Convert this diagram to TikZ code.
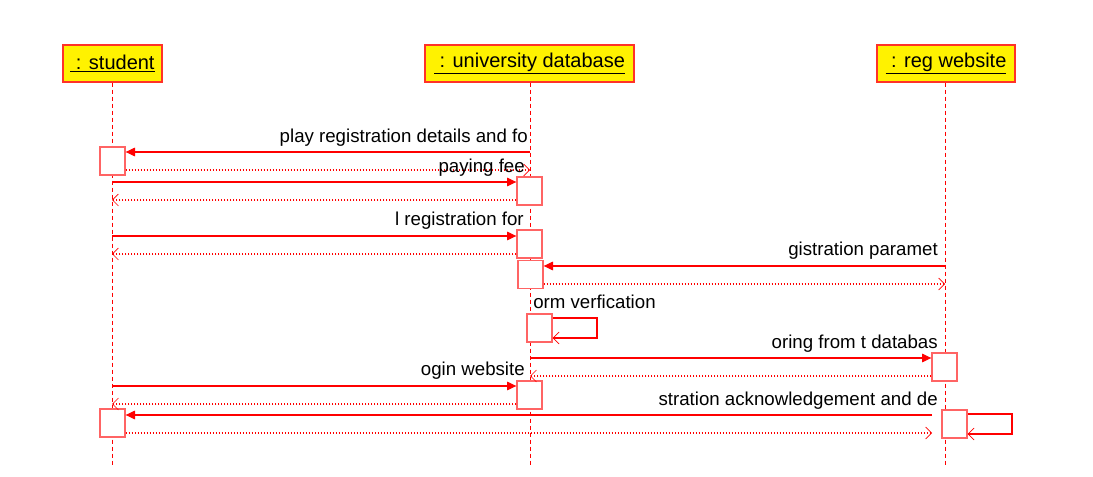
\documentclass[tikz,border=0pt]{standalone}
\usepackage{fontspec}
\setmainfont{Liberation Sans}
\usetikzlibrary{arrows.meta}

\definecolor{objborder}{RGB}{255,50,40}
\definecolor{actborder}{RGB}{255,100,100}

\tikzset{
  lifeobj/.style={draw=objborder, fill=yellow, line width=1.1pt, minimum height=27.75pt, inner sep=0pt, font=\fontsize{15}{17}\selectfont},
  actbox/.style={draw=actborder, fill=white, line width=1pt, minimum width=18.75pt, minimum height=21pt, inner sep=0pt},
  lifeline/.style={red, line width=0.75pt, dash pattern={on 3pt off 2.25pt}},
  callmsg/.style={red, line width=0.8pt, -{Triangle[length=7pt,width=6.5pt]}},
  retmsg/.style={red, line width=0.8pt, dash pattern={on 0.75pt off 1.5pt}, -{Straight Barb[length=4.5pt,width=9pt,line width=0.5pt]}},
  selfmsg/.style={red, line width=0.8pt, -{Straight Barb[length=4.5pt,width=9pt,line width=0.5pt]}},
  msglabel/.style={inner sep=0pt, font=\fontsize{14}{16}\selectfont}
}

\begin{document}
\begin{tikzpicture}[x=0.75pt,y=0.75pt,yscale=-1,xscale=1]
\useasboundingbox (0,0) rectangle (1093,477);

% objects
\node[lifeobj, minimum width=74.25pt] (stu) at (112.5,63.5) {\underline{~: student}};
\node[lifeobj, minimum width=156.75pt] (db) at (529.5,63.5) {\underline{~: university database}};
\node[lifeobj, minimum width=103.5pt] (reg) at (946,63.5) {\underline{~: reg website}};

% lifelines
\coordinate (stuEnd) at (112,465);
\coordinate (dbEnd) at (530,465);
\coordinate (regEnd) at (945,465);
\draw[lifeline] (stu.south -| stuEnd) -- (stuEnd);
\draw[lifeline] (db.south -| dbEnd) -- (dbEnd);
\draw[lifeline] (reg.south -| regEnd) -- (regEnd);

% activations
\node[actbox] (A1) at (112.5,161) {};
\node[actbox] (A2) at (529.5,191) {};
\node[actbox] (A3) at (529.5,244) {};
\node[actbox] (A4) at (530.5,274.5) {};
\node[actbox] (A5) at (539.5,328) {};
\node[actbox] (A6) at (944.5,367) {};
\node[actbox] (A7) at (529.5,395) {};
\node[actbox] (A8) at (112.5,423) {};
\node[actbox] (A9) at (954.5,424) {};

% message ends on the lifelines
\coordinate (c1) at (530,152);  \coordinate (c1r) at (530,170);
\coordinate (c2) at (112,182);  \coordinate (c2r) at (112,200);
\coordinate (c3) at (112,236);  \coordinate (c3r) at (112,254);
\coordinate (c4) at (945,266);  \coordinate (c4r) at (945,284);
\coordinate (s5) at (597,318);  \coordinate (s5r) at (597,338);
\coordinate (c6) at (530,358);  \coordinate (c6r) at (530,376);
\coordinate (c7) at (112,386);  \coordinate (c7r) at (112,404);
\coordinate (c8) at (932,415);  \coordinate (c8r) at (932,433);
\coordinate (s9) at (1012,414); \coordinate (s9r) at (1012,434);

% messages
\draw[callmsg] (c1) -- (A1.east |- c1);
\draw[retmsg] (A1.east |- c1r) -- (c1r);
\draw[callmsg] (c2) -- (A2.west |- c2);
\draw[retmsg] (A2.west |- c2r) -- (c2r);
\draw[callmsg] (c3) -- (A3.west |- c3);
\draw[retmsg] (A3.west |- c3r) -- (c3r);
\draw[callmsg] (c4) -- (A4.east |- c4);
\draw[retmsg] (A4.east |- c4r) -- (c4r);
\draw[selfmsg] (A5.east |- s5) -- (s5) -- (s5r) -- (A5.east |- s5r);
\draw[callmsg] (c6) -- (A6.west |- c6);
\draw[retmsg] (A6.west |- c6r) -- (c6r);
\draw[callmsg] (c7) -- (A7.west |- c7);
\draw[retmsg] (A7.west |- c7r) -- (c7r);
\draw[callmsg] (c8) -- (A8.east |- c8);
\draw[retmsg] (A8.east |- c8r) -- (c8r);
\draw[selfmsg] (A9.east |- s9) -- (s9) -- (s9r) -- (A9.east |- s9r);

% labels
\node[msglabel, anchor=base east] (l1) at (528,143) {play registration details and fo};
\node[msglabel, anchor=base east] (l2) at (525,173) {paying fee};
\node[msglabel, anchor=base east] (l3) at (524,226) {l registration for};
\node[msglabel, anchor=base east] (l4) at (938,256) {gistration paramet};
\node[msglabel, anchor=base west] (l5) at (533,309) {orm verfication};
\node[msglabel, anchor=base east] (l6) at (938,349) {oring from t databas};
\node[msglabel, anchor=base east] (l7) at (525,376) {ogin website};
\node[msglabel, anchor=base east] (l8) at (938,406) {stration acknowledgement and de};

\end{tikzpicture}
\end{document}
